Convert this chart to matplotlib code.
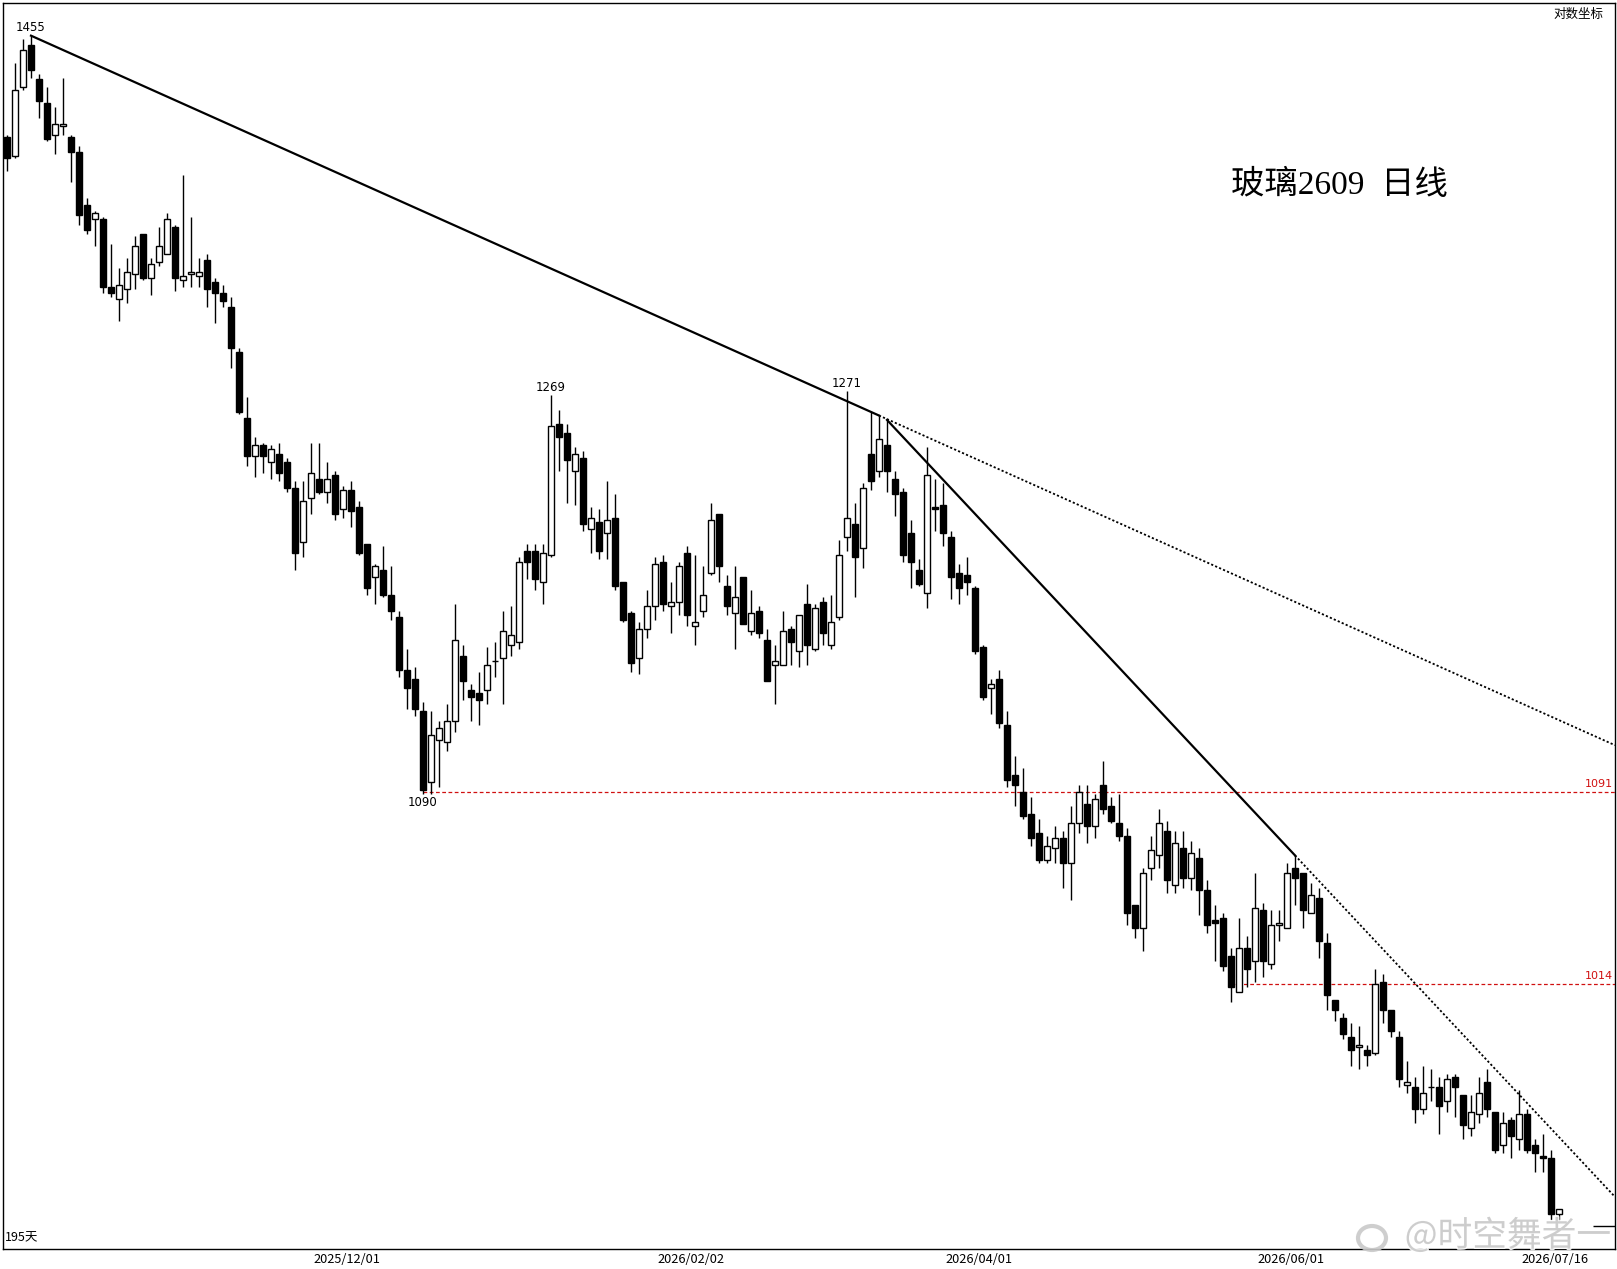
import numpy as np
import matplotlib
matplotlib.use('Agg')
import matplotlib.pyplot as plt
import matplotlib.patheffects as path_effects
from matplotlib.patches import Ellipse

plt.rcParams['font.family'] = ['Noto Sans CJK SC', 'DejaVu Sans']

# ============================================================
# DATA: 玻璃2609 日线 (195 根K线)
# ============================================================
opens = [
    1400, 1390, 1427, 1450, 1431, 1418, 1401, 1406, 1400, 1392,
    1364, 1357, 1357, 1322, 1316, 1321, 1329, 1349, 1327, 1335,
    1339, 1353, 1326, 1329, 1328, 1336, 1325, 1319, 1312, 1290,
    1258, 1240, 1245, 1237, 1241, 1237, 1225, 1200, 1220, 1229,
    1223, 1231, 1215, 1224, 1216, 1199, 1184, 1187, 1176, 1166,
    1143, 1139, 1125, 1095, 1113, 1112, 1121, 1149, 1134, 1133,
    1134, 1147, 1148, 1154, 1155, 1196, 1196, 1182, 1194, 1255,
    1251, 1233, 1239, 1206, 1209, 1204, 1211, 1182, 1168, 1148,
    1161, 1171, 1191, 1171, 1173, 1195, 1162, 1169, 1186, 1213,
    1180, 1168, 1184, 1160, 1169, 1156, 1145, 1145, 1161, 1151,
    1172, 1152, 1173, 1154, 1166, 1202, 1208, 1197, 1241, 1233,
    1245, 1229, 1223, 1204, 1187, 1177, 1216, 1217, 1202, 1186,
    1185, 1179, 1153, 1135, 1139, 1119, 1098, 1091, 1082, 1074,
    1063, 1068, 1072, 1062, 1078, 1086, 1077, 1094, 1085, 1078,
    1073, 1045, 1036, 1060, 1065, 1075, 1053, 1068, 1056, 1064,
    1051, 1039, 1040, 1025, 1011, 1028, 1023, 1043, 1022, 1037,
    1036, 1060, 1058, 1042, 1048, 1030, 1008, 1001, 994, 990,
    989, 988, 1015, 1004, 994, 976, 975, 967, 975, 975,
    970, 979, 972, 960, 965, 977, 966, 954, 963, 956,
    965, 954, 950, 949, 929,
]
highs = [
    1401, 1440, 1453, 1455, 1434, 1427, 1416, 1432, 1401, 1395,
    1368, 1361, 1358, 1344, 1332, 1337, 1348, 1349, 1337, 1353,
    1360, 1354, 1380, 1358, 1337, 1339, 1327, 1323, 1317, 1292,
    1268, 1249, 1246, 1245, 1246, 1239, 1228, 1228, 1246, 1246,
    1237, 1233, 1226, 1228, 1219, 1199, 1190, 1198, 1189, 1169,
    1152, 1144, 1129, 1125, 1121, 1128, 1172, 1154, 1137, 1142,
    1153, 1155, 1169, 1171, 1193, 1199, 1199, 1199, 1269, 1262,
    1255, 1244, 1242, 1216, 1215, 1228, 1222, 1182, 1169, 1164,
    1178, 1193, 1194, 1182, 1191, 1198, 1194, 1189, 1218, 1213,
    1185, 1189, 1184, 1178, 1171, 1161, 1154, 1169, 1162, 1167,
    1181, 1172, 1175, 1176, 1201, 1271, 1218, 1227, 1261, 1259,
    1257, 1233, 1225, 1210, 1192, 1244, 1229, 1227, 1205, 1190,
    1193, 1180, 1154, 1139, 1143, 1125, 1106, 1101, 1089, 1080,
    1073, 1077, 1075, 1085, 1094, 1094, 1090, 1104, 1089, 1090,
    1076, 1045, 1060, 1073, 1084, 1079, 1075, 1075, 1071, 1068,
    1055, 1045, 1042, 1028, 1040, 1033, 1058, 1046, 1043, 1043,
    1062, 1065, 1058, 1054, 1052, 1034, 1008, 1003, 999, 998,
    991, 1020, 1018, 1004, 996, 985, 979, 983, 982, 979,
    980, 980, 972, 972, 979, 982, 966, 966, 964, 974,
    967, 956, 958, 952, 931,
]
lows = [
    1382, 1389, 1425, 1432, 1410, 1398, 1391, 1401, 1376, 1354,
    1349, 1343, 1319, 1317, 1305, 1314, 1321, 1326, 1318, 1333,
    1339, 1320, 1322, 1322, 1322, 1312, 1304, 1312, 1282, 1260,
    1235, 1230, 1232, 1229, 1228, 1223, 1187, 1193, 1213, 1222,
    1218, 1210, 1211, 1207, 1194, 1176, 1172, 1175, 1165, 1140,
    1126, 1123, 1090, 1090, 1093, 1108, 1116, 1130, 1121, 1119,
    1128, 1140, 1128, 1149, 1152, 1183, 1178, 1172, 1193, 1233,
    1218, 1217, 1205, 1195, 1192, 1192, 1178, 1164, 1142, 1141,
    1157, 1165, 1169, 1159, 1167, 1162, 1154, 1166, 1185, 1182,
    1167, 1152, 1163, 1158, 1157, 1138, 1128, 1145, 1145, 1144,
    1145, 1151, 1154, 1152, 1165, 1196, 1175, 1188, 1224, 1230,
    1223, 1212, 1191, 1179, 1180, 1170, 1205, 1198, 1174, 1172,
    1176, 1150, 1130, 1124, 1118, 1093, 1085, 1080, 1069, 1062,
    1062, 1062, 1052, 1047, 1074, 1070, 1072, 1082, 1078, 1071,
    1037, 1032, 1027, 1055, 1060, 1050, 1050, 1052, 1051, 1041,
    1034, 1023, 1019, 1007, 1011, 1013, 1015, 1017, 1020, 1031,
    1036, 1045, 1036, 1042, 1024, 1004, 1000, 993, 983, 982,
    983, 987, 999, 994, 975, 973, 962, 965, 970, 958,
    966, 964, 956, 957, 962, 964, 951, 951, 949, 952,
    951, 944, 944, 927, 926,
]
closes = [
    1389, 1425, 1447, 1436, 1419, 1399, 1407, 1407, 1392, 1359,
    1351, 1360, 1322, 1319, 1323, 1330, 1343, 1327, 1334, 1343,
    1357, 1327, 1328, 1330, 1330, 1321, 1319, 1315, 1292, 1261,
    1240, 1245, 1240, 1243, 1232, 1225, 1195, 1219, 1232, 1223,
    1229, 1213, 1224, 1214, 1195, 1179, 1189, 1176, 1169, 1143,
    1135, 1126, 1092, 1115, 1118, 1121, 1156, 1138, 1131, 1130,
    1145, 1147, 1160, 1158, 1191, 1191, 1183, 1195, 1254, 1249,
    1238, 1241, 1208, 1211, 1196, 1210, 1180, 1165, 1146, 1161,
    1171, 1190, 1172, 1173, 1189, 1167, 1164, 1176, 1210, 1189,
    1171, 1175, 1163, 1168, 1159, 1138, 1147, 1160, 1155, 1167,
    1154, 1170, 1159, 1164, 1194, 1211, 1193, 1225, 1228, 1248,
    1233, 1222, 1194, 1191, 1181, 1231, 1215, 1204, 1184, 1179,
    1182, 1151, 1131, 1137, 1120, 1096, 1094, 1081, 1072, 1063,
    1069, 1072, 1062, 1078, 1091, 1077, 1088, 1084, 1079, 1073,
    1042, 1036, 1058, 1067, 1078, 1055, 1070, 1056, 1066, 1051,
    1037, 1038, 1021, 1013, 1028, 1020, 1044, 1023, 1037, 1038,
    1058, 1056, 1043, 1049, 1031, 1010, 1004, 995, 989, 991,
    987, 1014, 1004, 996, 978, 977, 967, 973, 975, 968,
    978, 975, 961, 966, 973, 967, 952, 962, 957, 965,
    952, 951, 949, 929, 931,
]

# 日期刻度 (K线序号 -> 日期)
date_idx = [43, 86, 122, 161, 194]
date_labels = ['2025/12/01', '2026/02/02', '2026/04/01', '2026/06/01', '2026/07/16']

# 趋势线锚点 (K线序号, 价格)
trend1_pts = [(3, 1455), (105, 1266)]
trend2_pts = [(110, 1257), (161, 1065)]

# 水平支撑线 (价格, 起点K线序号)
support_levels = [1091, 1014]
support_start = [52, 153]

# 高低点标注 (K线序号, 价格, 文本)
peak_marks = [(3, 1455, '1455'), (68, 1269, '1269'), (105, 1271, '1271')]
low_marks = [(52, 1090, '1090')]
last_mark = 925


def trend_line(pts, xs):
    (x0, p0), (x1, p1) = pts
    k = (np.log(p1) - np.log(p0)) / (x1 - x0)
    return np.exp(np.log(p0) + k * (xs - x0))


# ============================================================
# PLOT
# ============================================================
W, H = 1617, 1269
fig = plt.figure(figsize=(W / 100, H / 100), dpi=100)
fig.patch.set_facecolor('white')
ax = fig.add_axes([3 / W, 20 / H, 1612 / W, 1246 / H])

o = np.array(opens, dtype=float)
h = np.array(highs, dtype=float)
l = np.array(lows, dtype=float)
c = np.array(closes, dtype=float)
x = np.arange(len(o))
up = c >= o
bot = np.minimum(o, c)
top = np.maximum(o, c)

ax.set_yscale('log')
ax.set_xlim(-0.5, 201)
ax.set_ylim(916.8, 1473.2)

# 影线
ax.vlines(x, l, h, color='black', linewidth=1, zorder=2)
# 实体
ax.bar(x[up], top[up] - bot[up], bottom=bot[up], width=0.72, color='white',
       edgecolor='black', linewidth=1, zorder=3)
ax.bar(x[~up], top[~up] - bot[~up], bottom=bot[~up], width=0.72, color='black',
       edgecolor='black', linewidth=1, zorder=3)

# 趋势线
x_end = 201
xs = np.array([trend1_pts[0][0], 109.0])
ax.plot(xs, trend_line(trend1_pts, xs), color='black', linewidth=1.6, zorder=4)
xs = np.array([109.0, x_end])
ax.plot(xs, trend_line(trend1_pts, xs), color='black', linewidth=1.3,
        linestyle=(0, (1.2, 1.2)), zorder=4)

xs = np.array([trend2_pts[0][0], trend2_pts[1][0]], dtype=float)
ax.plot(xs, trend_line(trend2_pts, xs), color='black', linewidth=1.6, zorder=4)
xs = np.array([trend2_pts[1][0], x_end], dtype=float)
ax.plot(xs, trend_line(trend2_pts, xs), color='black', linewidth=1.3,
        linestyle=(0, (1.2, 1.2)), zorder=4)

# 支撑线
for lvl, xs0 in zip(support_levels, support_start):
    ax.hlines(lvl, xs0, x_end, color='#d01010', linewidth=0.9,
              linestyles=(0, (3, 2)), zorder=1)
    ax.text(200.7, lvl * 1.0012, str(lvl), color='#d01010', fontsize=8,
            ha='right', va='bottom', family='DejaVu Sans')

# 高低点标注
for xi, p, t in peak_marks:
    ax.text(xi, p * 1.0005, t, fontsize=8.5, ha='center', va='bottom', family='DejaVu Sans')
for xi, p, t in low_marks:
    ax.text(xi, p * 0.9993, t, fontsize=8.5, ha='center', va='top', family='DejaVu Sans')

ax.hlines(last_mark, 198.3, x_end, color='black', linewidth=1, zorder=4)

# 坐标轴
ax.set_yticks([])
ax.set_yticks([], minor=True)
ax.set_xticks([d - 0.5 for d in date_idx])
ax.set_xticklabels(date_labels)
ax.tick_params(axis='x', length=0, pad=3, labelsize=9.2)
for s in ax.spines.values():
    s.set_linewidth(1)
    s.set_color('black')

ax.text(0.001, 0.004, '195天', transform=ax.transAxes, fontsize=9, ha='left', va='bottom')
ax.text(0.993, 0.996, '对数坐标', transform=ax.transAxes, fontsize=9, ha='right', va='top')

fig.text(1339 / W, 1 - 185 / H, '玻璃2609  日线', fontsize=24,
         family=['Liberation Serif', 'Noto Sans CJK SC'], ha='center', va='center')

# 水印
wm = fig.text(1508 / W, 1 - 1236 / H, '@时空舞者一', fontsize=25, color='#c9c9c9',
              ha='center', va='center', alpha=0.9)
wm.set_path_effects([path_effects.withStroke(linewidth=2, foreground='white')])
logo = Ellipse((1372 / W, 1 - 1238 / H), 28 / W, 24 / H, transform=fig.transFigure,
               facecolor='none', edgecolor='#c9c9c9', linewidth=3, alpha=0.9)
fig.patches.append(logo)

fig.savefig('out.png', dpi=100, facecolor='white')
